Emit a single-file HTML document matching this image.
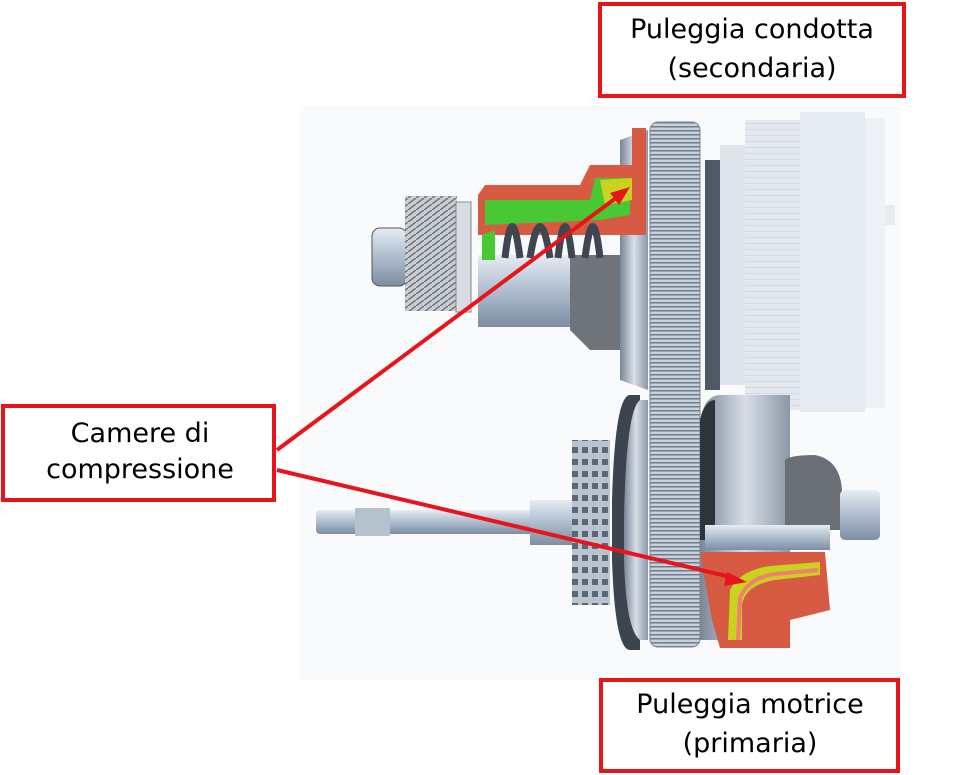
<!DOCTYPE html>
<html><head><meta charset="utf-8"><style>
html,body{margin:0;padding:0;background:#fff;}
svg{display:block;}
text{font-family:"DejaVu Sans","Liberation Sans",sans-serif;font-size:27px;fill:#000;}
</style></head><body>
<svg width="967" height="775" viewBox="0 0 967 775" xmlns="http://www.w3.org/2000/svg">
<defs>
<linearGradient id="cyl" x1="0" y1="0" x2="0" y2="1">
<stop offset="0" stop-color="#e6ecf3"/><stop offset="0.4" stop-color="#b8c6d6"/><stop offset="1" stop-color="#7d8ea3"/></linearGradient>
<linearGradient id="cylh" x1="0" y1="0" x2="1" y2="0">
<stop offset="0" stop-color="#7a8696"/><stop offset="0.5" stop-color="#d7dee7"/><stop offset="1" stop-color="#8b97a7"/></linearGradient>
<pattern id="belt" width="10" height="4" patternUnits="userSpaceOnUse">
<rect width="10" height="4" fill="#c9d2dc"/><rect y="2" width="10" height="1.5" fill="#6f7c8c"/></pattern>
<pattern id="ghost" width="10" height="6" patternUnits="userSpaceOnUse">
<rect width="10" height="6" fill="#e4e9ef"/><rect y="3" width="10" height="1" fill="#d3dae3"/></pattern>
<pattern id="gear" width="8" height="6" patternUnits="userSpaceOnUse">
<rect width="8" height="6" fill="#c8cdd2"/><path d="M0 6 L8 0" stroke="#6c737a" stroke-width="1.5"/></pattern>
<pattern id="ring" width="10" height="12" patternUnits="userSpaceOnUse">
<rect width="10" height="12" fill="#b9c4d0"/><rect x="2" y="3" width="6" height="6" fill="#5c6775"/></pattern>
</defs>
<rect x="300" y="105" width="600" height="575" fill="#f9fafb"/>

<rect x="720" y="145" width="40" height="240" fill="#dfe5ec"/>
<rect x="745" y="120" width="55" height="290" fill="url(#ghost)"/>
<rect x="800" y="112" width="65" height="300" fill="#e6ebf1"/>
<rect x="865" y="118" width="20" height="290" fill="#edf0f4"/>
<rect x="885" y="205" width="10" height="20" fill="#e8ecf0"/>
<rect x="705" y="160" width="15" height="230" fill="#4f5968"/>

<rect x="372" y="228" width="35" height="58" rx="8" fill="url(#cyl)" stroke="#555" stroke-width="1"/>
<rect x="405" y="196" width="52" height="115" fill="url(#gear)"/>
<rect x="456" y="202" width="15" height="110" fill="#d8dde3" stroke="#888" stroke-width="1"/>
<rect x="478" y="255" width="160" height="72" fill="url(#cyl)"/>
<path d="M570 255 L620 255 L620 350 L590 350 L570 330 Z" fill="#6f747a"/>
<path d="M620 140 L648 130 L648 390 L620 380 Z" fill="url(#cylh)"/>
<path d="M478 195 L485 185 L580 185 L590 165 L632 165 L632 128 L646 128 L646 235 L478 235 Z" fill="#d75a43"/>
<path d="M485 200 L590 200 L595 178 L630 178 L630 215 L600 220 L485 225 Z" fill="#48c832"/>
<path d="M600 180 L632 178 L632 200 L605 205 Z" fill="#c9d21e"/>
<path d="M482 235 L482 260 L495 260 L495 230 Z" fill="#48c832"/>
<g fill="none" stroke="#3e4651" stroke-width="7">
<path d="M505 258 Q512 195 520 258"/><path d="M530 258 Q540 195 550 258"/>
<path d="M558 258 Q565 195 572 258"/><path d="M585 258 Q593 195 600 258"/>
</g>

<rect x="650" y="122" width="50" height="525" rx="8" fill="url(#belt)" stroke="#7a8594" stroke-width="1"/>

<rect x="316" y="510" width="218" height="24" rx="4" fill="url(#cyl)"/>
<rect x="355" y="508" width="35" height="28" fill="#b5c1cd"/>
<rect x="530" y="500" width="45" height="45" fill="url(#cyl)"/>
<rect x="572" y="440" width="38" height="165" fill="url(#ring)"/>
<path d="M612 500 Q615 395 630 395 L640 395 L640 650 L630 650 Q615 650 612 560 Z" fill="#3c4450"/>
<path d="M624 520 Q626 410 640 400 L648 400 L648 640 L640 640 Q626 630 624 560 Z" fill="url(#cylh)"/>
<path d="M700 420 Q705 395 720 395 L790 395 L790 640 L700 640 Z" fill="url(#cylh)"/>
<path d="M700 420 Q705 400 715 400 L715 540 L700 540 Z" fill="#2e343c"/>
<path d="M785 460 Q790 455 815 455 Q840 460 842 490 L842 530 L785 530 Z" fill="#6b7077"/>
<rect x="840" y="490" width="40" height="50" rx="5" fill="url(#cyl)"/>
<rect x="705" y="525" width="125" height="25" fill="url(#cyl)"/>
<path d="M700 552 L825 552 L830 610 L790 620 L790 648 L720 648 L712 620 Z" fill="#d75a43"/>
<path d="M728 640 L730 590 Q740 570 770 566 L820 562 L820 575 L775 580 Q745 585 742 605 L742 640 Z" fill="#c9d21e"/>
<path d="M738 640 L740 598 Q748 578 775 574 L818 570" fill="none" stroke="#f08070" stroke-width="4"/>

<g stroke="#e8141b" stroke-width="4" fill="#e8141b">
<line x1="277" y1="450" x2="620" y2="195"/>
<polygon points="630,187 610,193 619,205" stroke="none"/>
<line x1="277" y1="470" x2="735" y2="578"/>
<polygon points="747,582 727,572 724,586" stroke="none"/>
</g>

<g fill="#fff" stroke="#e8141b" stroke-width="4">
<rect x="600" y="4" width="304" height="92"/>
<rect x="3" y="406" width="271" height="94"/>
<rect x="601" y="680" width="297" height="91"/>
</g>
<g text-anchor="middle">
<text x="752" y="38">Puleggia condotta</text>
<text x="752" y="77">(secondaria)</text>
<text x="140" y="442">Camere di</text>
<text x="140" y="478">compressione</text>
<text x="750" y="713">Puleggia motrice</text>
<text x="750" y="752">(primaria)</text>
</g>
</svg>
</body></html>
